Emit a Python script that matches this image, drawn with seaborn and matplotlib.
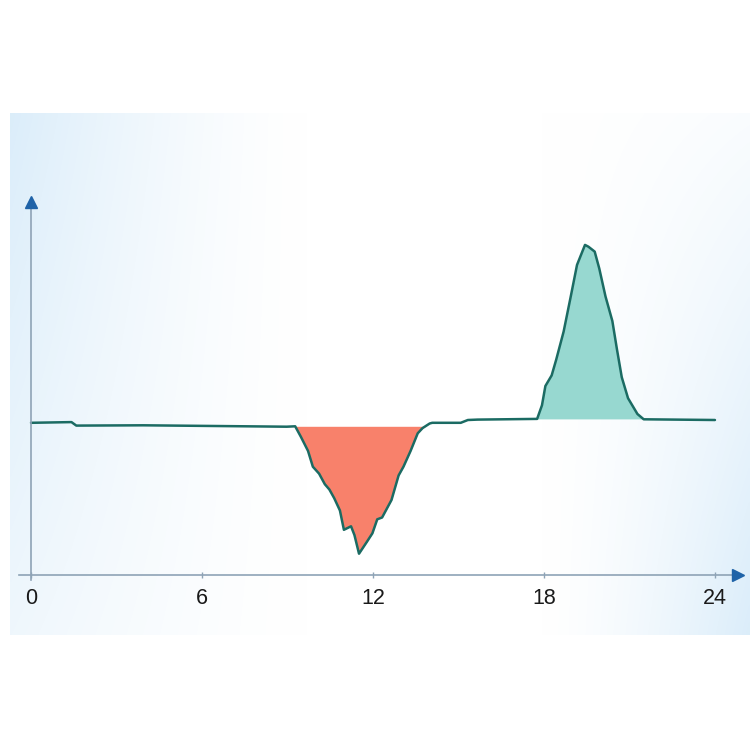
"""Day profile: a single dip around noon and a peak in the evening."""

import matplotlib
matplotlib.use("Agg")
import matplotlib.pyplot as plt
import numpy as np
import seaborn as sns

# --- Data ---
HOURS = [
    0.00, 1.42, 1.59, 3.94, 8.97, 9.27, 9.47, 9.72, 9.89, 10.11, 10.31, 10.47,
    10.64, 10.84, 10.98, 11.23, 11.35, 11.51, 11.78, 11.98, 12.15, 12.32,
    12.65, 12.90, 13.07, 13.32, 13.57, 13.74, 13.99, 14.08, 15.08, 15.33,
    15.67, 17.76, 17.93, 18.05, 18.27, 18.43, 18.69, 18.94, 19.16, 19.44,
    19.56, 19.78, 19.94, 20.16, 20.40, 20.56, 20.73, 20.95, 21.28, 21.50,
    24.00,
]
VALUES = [
    0.12, 0.19, -0.16, -0.13, -0.27, -0.23, -1.28, -2.69, -4.27, -4.97, -6.02,
    -6.55, -7.42, -8.65, -10.58, -10.23, -11.11, -12.97, -11.81, -10.93,
    -9.53, -9.35, -7.60, -5.14, -4.27, -2.69, -0.93, -0.41, 0.05, 0.12, 0.12,
    0.40, 0.44, 0.51, 1.87, 3.80, 4.86, 6.44, 9.24, 12.75, 15.91, 17.91,
    17.73, 17.24, 15.56, 12.75, 10.30, 7.49, 4.68, 2.58, 1.00, 0.47, 0.40,
]
DIP_LEVEL = -0.23
PEAK_LEVEL = 0.51
XTICKS = [0, 6, 12, 18, 24]
XTICK_LABELS = ["0", "6", "12", "18", "24"]

# --- Style ---
LINE_COLOR = "#1b6b63"
DIP_COLOR = "#f8816b"
PEAK_COLOR = "#97d8d0"
AXIS_COLOR = "#8ea3b6"
ARROW_COLOR = "#1f63a8"

sns.set_theme(style="white")
plt.rcParams["font.family"] = ["Liberation Sans", "DejaVu Sans"]

fig = plt.figure(figsize=(7.5, 7.5), dpi=100)
ax = fig.add_axes([0, 0, 1, 1])
ax.set_xlim(-1.088, 25.23)
ax.set_ylim(-32.6, 42.4)
ax.patch.set_alpha(0)

# soft blue backdrop panel
ny, nx = 200, 300
u = np.linspace(0, 1, nx)[None, :]
v = np.linspace(0, 1, ny)[:, None]
w_left = np.clip(1 - u / 0.4, 0, 1) ** 1.4 * (0.45 + 0.55 * (1 - v))
w_right = np.clip((u - 0.72) / 0.28, 0, 1) ** 1.4 * (0.15 + 0.85 * v)
w = np.clip(np.maximum(w_left, w_right), 0, 1)[..., None]
blue = np.array([0.86, 0.93, 0.98])
img = (1 - w) * np.ones(3) + w * blue
ax.imshow(img, extent=(-0.737, 25.23, -21.1, 31.1), aspect="auto",
          zorder=0, interpolation="bilinear")

x = np.array(HOURS)
y = np.array(VALUES)
ax.fill_between(x, y, DIP_LEVEL, where=y <= DIP_LEVEL, interpolate=True,
                color=DIP_COLOR, linewidth=0, zorder=2)
ax.fill_between(x, y, PEAK_LEVEL, where=y >= PEAK_LEVEL, interpolate=True,
                color=PEAK_COLOR, linewidth=0, zorder=2)
sns.lineplot(x=x, y=y, ax=ax, color=LINE_COLOR, linewidth=1.8, zorder=3,
             sort=False)

# axes as arrows
for side in ["top", "right"]:
    ax.spines[side].set_visible(False)
ax.spines["bottom"].set_position(("data", -15.1))
ax.spines["bottom"].set_bounds(-0.42, 24.6)
ax.spines["left"].set_position(("data", 0))
ax.spines["left"].set_bounds(-15.6, 21.8)
for side in ["bottom", "left"]:
    ax.spines[side].set_color(AXIS_COLOR)
    ax.spines[side].set_linewidth(1.2)
    ax.spines[side].set_zorder(4)
ax.plot([24.8], [-15.1], marker=">", markersize=9, color=ARROW_COLOR,
        clip_on=False, zorder=5)
ax.plot([0], [22.2], marker="^", markersize=9, color=ARROW_COLOR,
        clip_on=False, zorder=5)

ax.set_xticks(XTICKS)
ax.set_xticklabels(XTICK_LABELS)
ax.set_yticks([])
ax.tick_params(axis="x", direction="inout", length=5, width=1,
               color=AXIS_COLOR, labelsize=15.5, labelcolor="#1a1a1a", pad=7,
               bottom=True)
ax.set_xlabel("")
ax.set_ylabel("")

fig.savefig("out.png", dpi=100)
plt.close(fig)
